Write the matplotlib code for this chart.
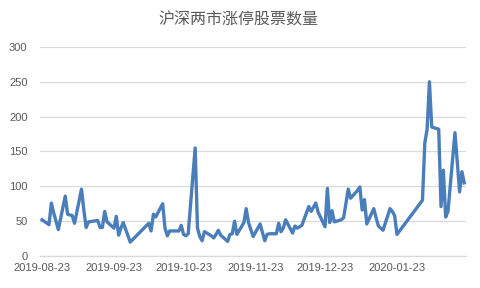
#!/usr/bin/env python3

import matplotlib
matplotlib.use('Agg')
import matplotlib.pyplot as plt
import matplotlib.dates as mdates
import pandas as pd

# trading days 2019-08-23 .. 2020-02-21 (weekdays minus exchange holidays)
start_date = '2019-08-23'
end_date = '2020-02-21'
holidays = ['2019-09-13', '2019-10-01', '2019-10-02', '2019-10-03', '2019-10-04',
            '2019-10-07', '2020-01-01', '2020-01-24', '2020-01-27', '2020-01-28',
            '2020-01-29', '2020-01-30', '2020-01-31']

# limit-up counts
aug = [52, 45, 76, 62, 50, 38]
sep = [86, 60, 59, 58, 47, 96, 66, 41, 49, 51, 41, 41, 64, 49, 40, 57, 30, 40, 48, 20]
oct_ = [47, 36, 60, 56, 75, 40, 29, 36, 36, 36, 44, 31, 29, 32, 155, 40, 28, 22]
nov = [35, 29, 26, 31, 37, 30, 21, 31, 32, 50, 31, 48, 68, 48, 38, 28, 46, 34, 22, 31, 32]
dec = [32, 47, 35, 40, 52, 33, 43, 40, 42, 44, 71, 64, 70, 76, 63, 42, 97, 48, 65, 49, 52, 55]
jan = [96, 83, 94, 99, 66, 81, 46, 68, 55, 43, 40, 37, 68, 64, 58, 31]
feb = [80, 162, 182, 250, 185, 182, 71, 123, 56, 64, 177, 135, 92, 121, 105]

tick_dates = ['2019-08-23', '2019-09-23', '2019-10-23', '2019-11-23',
              '2019-12-23', '2020-01-23']
title = '沪深两市涨停股票数量'


def main():
    '''Main function'''
    days = pd.bdate_range(start_date, end_date)
    days = days[~days.isin(pd.to_datetime(holidays))]
    counts = aug + sep + oct_ + nov + dec + jan + feb
    data = pd.DataFrame({'date': days, 'count': counts})

    plt.rcParams['font.family'] = ['Liberation Sans', 'DejaVu Sans']
    grey = '#595959'
    gridc = '#d9d9d9'

    fig = plt.figure(figsize=(4.8, 2.88), dpi=100)
    ax = fig.add_axes([0.0833, 0.111, 0.8877, 0.726])

    ax.plot(data['date'], data['count'], color='#4a7ebb', lw=2.4,
            solid_joinstyle='round', zorder=3)

    d0 = pd.Timestamp(start_date)
    ax.set_xlim(d0 - pd.Timedelta(days=0.9), d0 + pd.Timedelta(days=182.8))
    ax.set_ylim(0, 300)
    ax.set_yticks(range(0, 301, 50))
    ax.set_xticks(pd.to_datetime(tick_dates))
    ax.xaxis.set_major_formatter(mdates.DateFormatter('%Y-%m-%d'))

    ax.grid(axis='y', color=gridc, lw=0.9)
    ax.set_axisbelow(True)
    for s in ['top', 'right', 'left']:
        ax.spines[s].set_visible(False)
    ax.spines['bottom'].set_color(gridc)
    ax.spines['bottom'].set_linewidth(0.9)

    ax.tick_params(axis='y', length=0, pad=9, labelsize=8, labelcolor=grey)
    ax.tick_params(axis='x', length=0, pad=5, labelsize=8, labelcolor=grey)

    fig.text(0.496, 0.93, title, ha='center', va='center', fontsize=11.5,
             color=grey, family=['Noto Sans CJK SC', 'DejaVu Sans'])

    plt.savefig('out.png', dpi=100)


if __name__ == '__main__':
    main()
